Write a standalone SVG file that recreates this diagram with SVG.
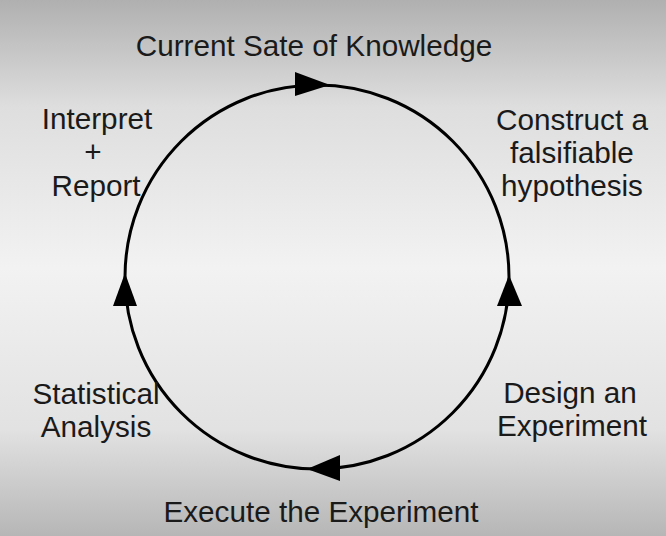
<svg xmlns="http://www.w3.org/2000/svg" width="666" height="536" viewBox="0 0 666 536">
  <defs>
    <linearGradient id="bg" x1="0" y1="0" x2="0" y2="1">
      <stop offset="0" stop-color="#b0b0b0"/>
      <stop offset="0.2" stop-color="#dedede"/>
      <stop offset="0.5" stop-color="#f2f2f2"/>
      <stop offset="0.8" stop-color="#e2e2e2"/>
      <stop offset="1" stop-color="#b6b6b6"/>
    </linearGradient>
    <style>
      .lbl { font-family: "Liberation Sans", Arial, sans-serif; font-size: 29.7px; fill: #1a1a1a; text-anchor: middle; }
      .ring { fill: none; stroke: #000; stroke-width: 3; }
      .head { fill: #000; }
    </style>
  </defs>

  <rect width="666" height="536" fill="url(#bg)"/>

  <!-- cycle ring and its direction arrowheads -->
  <g id="connectors">
    <circle class="ring" cx="317" cy="277" r="192"/>
    <polygon class="head" points="295,72 330,85 295,96"/>
    <polygon class="head" points="509,275 522,306 497,306"/>
    <polygon class="head" points="307,469 340,455 340,481"/>
    <polygon class="head" points="125,273 137,306 113,306"/>
  </g>

  <g id="knowledge">
    <text class="lbl" x="314" y="56">Current Sate of Knowledge</text>
  </g>
  <g id="hypothesis">
    <text class="lbl" x="572" y="130">Construct a</text>
    <text class="lbl" x="572" y="163">falsifiable</text>
    <text class="lbl" x="572" y="196">hypothesis</text>
  </g>
  <g id="design">
    <text class="lbl" x="570" y="403">Design an</text>
    <text class="lbl" x="572" y="436">Experiment</text>
  </g>
  <g id="execute">
    <text class="lbl" x="321" y="522">Execute the Experiment</text>
  </g>
  <g id="analysis">
    <text class="lbl" x="96" y="404">Statistical</text>
    <text class="lbl" x="96" y="437">Analysis</text>
  </g>
  <g id="report">
    <text class="lbl" x="97" y="129">Interpret</text>
    <text class="lbl" x="93" y="162">+</text>
    <text class="lbl" x="96" y="196">Report</text>
  </g>
</svg>
